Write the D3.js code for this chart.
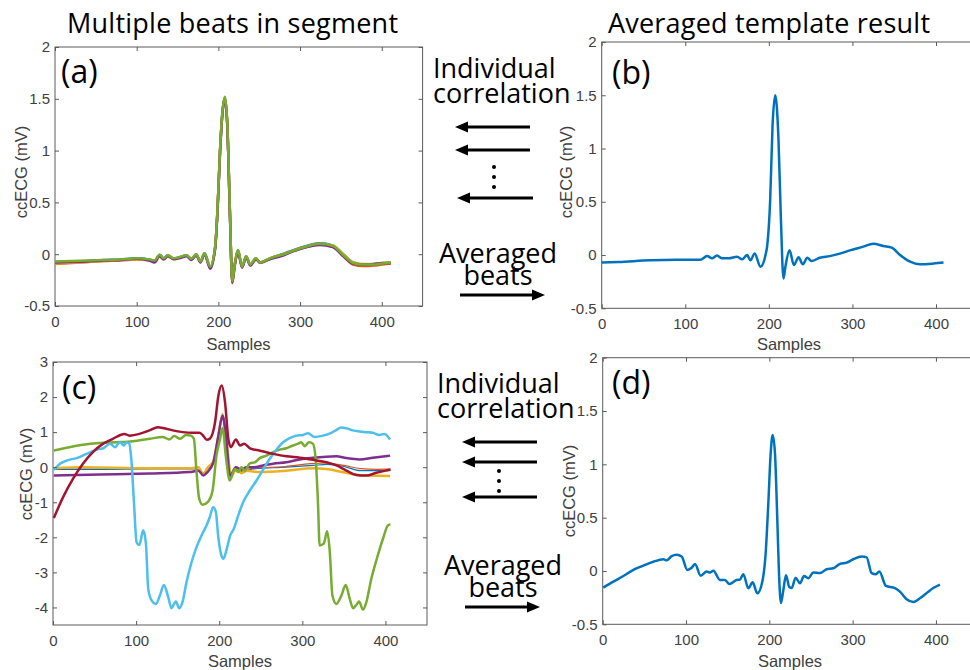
<html>
<head>
  <title></title>
</head>
<body style="margin:0;background:#fff">
<div id='graph-container'></div>
</body>
<script src="https://d3js.org/d3.v7.min.js"></script>
<script type="text/javascript">

// ---- data ----
var xTicks = [0, 100, 200, 300, 400]
var xTickLabels = ['0', '100', '200', '300', '400']
var yTicksSmall = [-0.5, 0, 0.5, 1, 1.5, 2]
var yTickLabelsSmall = ['-0.5', '0', '0.5', '1', '1.5', '2']
var yTicksBig = [-4, -3, -2, -1, 0, 1, 2, 3]
var yTickLabelsBig = ['-4', '-3', '-2', '-1', '0', '1', '2', '3']

// (a) several beats, same sample positions
var aSamples = [0,20,40,60,80, 100,115,122,128,133, 138,145,152,161,167, 173,178,183,190,196,
  199,202,205,208,211, 214,217,220,224,229, 234,239,246,251,263, 280,292,308,324,340, 353,365,377,390,400, 411]
var aBlue = [-0.075,-0.07,-0.065,-0.055,-0.05, -0.04,-0.05,-0.06,-0.005,-0.04, -0.01,-0.04,-0.03,-0.01,-0.045,
  0.0,-0.07,0.01,-0.12,0.065, 0.44,0.99,1.37,1.51,1.24, 0.44,-0.26,-0.1,0.04,-0.12, -0.02,-0.1,-0.04,-0.08,-0.04,
  0.005,0.04,0.08,0.105,0.085, 0.0,-0.08,-0.1,-0.1,-0.09, -0.085]
var aOrange = [-0.095,-0.085,-0.075,-0.065,-0.06, -0.05,-0.055,-0.065,-0.015,-0.045, -0.015,-0.05,-0.035,-0.015,-0.05,
  -0.005,-0.075,0.005,-0.125,0.06, 0.44,0.99,1.37,1.5,1.24, 0.44,-0.28,-0.11,0.03,-0.125, -0.025,-0.105,-0.045,-0.085,-0.045,
  -0.005,0.03,0.07,0.095,0.07, -0.02,-0.1,-0.115,-0.11,-0.1, -0.09]
var aYellow = [-0.09,-0.08,-0.075,-0.065,-0.055, -0.05,-0.055,-0.065,-0.01,-0.045, -0.015,-0.045,-0.035,-0.015,-0.05,
  -0.005,-0.075,0.005,-0.12,0.06, 0.44,0.99,1.37,1.51,1.24, 0.44,-0.265,-0.105,0.035,-0.12, -0.025,-0.1,-0.04,-0.08,-0.04,
  0.0,0.035,0.075,0.1,0.085, 0.0,-0.08,-0.095,-0.095,-0.085, -0.08]
var aPurple = [-0.08,-0.075,-0.07,-0.06,-0.055, -0.045,-0.06,-0.08,-0.02,-0.05, -0.02,-0.045,-0.04,-0.02,-0.055,
  -0.01,-0.08,0.0,-0.14,0.05, 0.42,0.98,1.36,1.5,1.22, 0.42,-0.27,-0.11,0.02,-0.13, -0.03,-0.11,-0.05,-0.08,-0.05,
  -0.01,0.03,0.07,0.09,0.07, -0.02,-0.09,-0.1,-0.095,-0.085, -0.085]
var aGreen = [-0.07,-0.065,-0.06,-0.055,-0.05, -0.04,-0.05,-0.06,-0.005,-0.04, -0.01,-0.04,-0.03,-0.01,-0.045,
  0.0,-0.07,0.01,-0.12,0.07, 0.45,1.0,1.38,1.52,1.25, 0.45,-0.26,-0.1,0.04,-0.12, -0.02,-0.1,-0.04,-0.08,-0.04,
  0.0,0.035,0.075,0.1,0.08, -0.01,-0.085,-0.1,-0.1,-0.09, -0.08]

// (b) averaged template, [sample, mV]
var bTemplate = [[0,-0.07],[20,-0.065],[58,-0.05],[90,-0.045],[118,-0.045],[126,-0.01],[132,-0.03],[138,-0.005],
  [144,-0.03],[152,-0.03],[162,-0.015],[168,-0.04],[174,0.0],[178,-0.05],[183,0.015],[190,-0.11],[196,0.0],
  [198,0.085],[201.6,0.52],[204.4,1.21],[207.6,1.5],[211.5,1.09],[214.3,0.37],[217.5,-0.22],[220,-0.1],
  [224.7,0.044],[230,-0.094],[235.5,-0.02],[240.7,-0.087],[246,-0.025],[251,-0.056],[261,-0.025],[273,-0.01],
  [285,0.013],[297,0.044],[313,0.079],[325,0.107],[337,0.085],[347,0.07],[357,0.0],[369,-0.062],[381,-0.087],
  [397,-0.08],[409,-0.071]]

// (c) noisy segment beats
var cBlue = [[1,-0.06],[60,-0.06],[120,-0.05],[170,-0.05],[181,-0.18],[186,-0.05],[193,0.15],[199,0.9],[204,1.45],
  [208,0.9],[214,-0.28],[221,-0.05],[228,-0.15],[240,-0.05],[280,0.0],[313,0.05],[330,0.08],[350,0.02],[370,-0.1],
  [390,-0.1],[406,-0.08]]
var cOrange = [[1,-0.02],[60,-0.02],[120,-0.02],[170,-0.02],[181,-0.16],[186,-0.02],[193,0.15],[199,0.9],[204,1.48],
  [208,0.9],[214,-0.26],[221,-0.03],[228,-0.13],[240,-0.03],[280,0.02],[310,0.1],[330,0.12],[350,0.05],[370,-0.04],
  [390,-0.06],[406,-0.05]]
var cYellow = [[1,-0.03],[36,0.0],[116,-0.03],[165,-0.03],[175,0.0],[181,-0.2],[185.5,-0.03],[193,0.18],[199,0.9],
  [204,1.52],[208,0.9],[214.7,-0.24],[220.8,-0.05],[226.8,-0.17],[232.8,-0.1],[248.8,-0.14],[280.8,-0.1],
  [312.8,-0.03],[328.8,-0.05],[344.8,-0.12],[360.8,-0.2],[376.8,-0.24],[405.6,-0.25]]
var cPurple = [[1,-0.24],[56,-0.21],[116,-0.18],[164,-0.14],[175,-0.1],[181,-0.24],[185,-0.16],[193,0.14],[199,0.9],
  [204,1.47],[208,0.9],[213,-0.24],[220,0.0],[226.8,-0.07],[232.8,0.0],[240.8,0.0],[252.8,0.05],[264.8,0.1],
  [280.8,0.14],[296.8,0.22],[312.8,0.27],[328.8,0.3],[340.8,0.31],[352.8,0.26],[368.8,0.22],[384.8,0.27],[405.6,0.33]]
var cGreen = [[1,0.475],[20,0.57],[36,0.64],[56,0.69],[76,0.71],[96,0.74],[116,0.81],[132,0.86],[140,0.79],[146,0.89],
  [153,0.81],[160,0.92],[166,0.9],[169.5,0.81],[172.7,-0.14],[175.9,-0.9],[180,-1.07],[186.7,-0.98],[192,-0.665],
  [196.7,0.33],[201,0.8],[204,1.12],[208,0.3],[212.7,-0.38],[218.8,-0.05],[222.8,-0.14],[226.8,0.0],[230.8,-0.1],
  [236.8,0.11],[242.8,0.14],[248.8,0.26],[256.8,0.33],[264.8,0.43],[272.8,0.5],[280.8,0.54],[288.8,0.62],[294.8,0.67],
  [298.8,0.71],[302.8,0.6],[308,0.71],[312.8,0.67],[316,0.24],[318.8,-1.0],[320.8,-2.23],[325.8,-2.18],[329.8,-1.83],
  [333,-2.4],[336.2,-3.66],[341,-3.9],[347,-3.66],[352.2,-3.36],[357,-3.75],[361,-4.02],[365.8,-3.9],[368.2,-3.83],
  [373,-4.06],[377,-3.85],[383,-3.18],[389,-2.66],[397,-2.04],[403,-1.66],[406,-1.63]]
var cCyan = [[1,-0.08],[8.4,0.095],[16.4,0.19],[28.4,0.26],[40.5,0.38],[52.5,0.5],[60.5,0.54],[68.5,0.67],[74.5,0.57],
  [80.5,0.71],[85.3,0.62],[88.5,0.71],[91.7,0.67],[94.5,0.14],[97.4,-1.0],[100.6,-2.14],[103.8,-2.22],[108.6,-1.8],
  [111.8,-2.18],[114.6,-3.47],[118.6,-3.8],[123.8,-3.9],[128.6,-3.66],[133.4,-3.36],[138.6,-3.7],[142.6,-4.02],
  [147.8,-3.83],[151.8,-4.02],[155.8,-3.85],[160.6,-3.28],[166.7,-2.71],[172.7,-2.28],[178.7,-1.95],[184.7,-1.66],
  [188.7,-1.42],[192.7,-1.14],[196,-1.28],[198.7,-1.95],[202.4,-2.5],[205,-2.61],[209.1,-2.33],[213.1,-1.95],
  [217.2,-1.78],[222.8,-1.38],[228.8,-1.0],[236.8,-0.665],[244.8,-0.38],[252.8,-0.07],[260.8,0.24],[268.8,0.5],
  [276.8,0.71],[284.8,0.83],[292.8,0.9],[300.8,0.92],[306.8,0.97],[314.8,0.86],[324.8,0.9],[334.8,0.98],[340.8,1.06],
  [346.8,1.13],[352.8,1.11],[360.8,1.05],[368.8,1.02],[376.8,1.0],[384.8,0.98],[392.8,0.92],[398.8,0.95],[405.6,0.79]]
var cRed = [[1,-1.45],[12,-0.86],[24,-0.33],[36,0.1],[48,0.43],[60,0.665],[72,0.81],[86,0.95],[92,0.9],[104,0.95],
  [116,1.05],[126,1.14],[134,1.11],[144,1.05],[156,1.0],[168,0.98],[176,0.98],[180,0.92],[185,0.78],[189,0.82],
  [195,1.28],[199,2.04],[203,2.33],[207,1.85],[211,0.8],[214,0.57],[220,0.79],[225,0.62],[230,0.67],[237,0.54],
  [249,0.47],[265,0.38],[281,0.31],[297,0.27],[313,0.21],[329,0.14],[341,0.05],[353,-0.095],[365,-0.22],[377,-0.24],
  [389,-0.16],[401,-0.095],[406,-0.07]]

// (d) averaged template of the noisy segment
var dTemplate = [[0.7,-0.156],[12.8,-0.1],[24.8,-0.047],[36.8,0.01],[48.8,0.05],[60.8,0.087],[72.8,0.11],[76.8,0.1],
  [82.8,0.14],[88.8,0.153],[94.8,0.135],[101.6,0.01],[106.8,0.03],[110.8,0.066],[117.6,-0.044],[124.8,-0.005],
  [128.8,-0.015],[132.8,0.003],[140.8,-0.084],[146.8,-0.084],[152,-0.122],[160.8,-0.084],[164.8,-0.08],[168.8,-0.03],
  [174.8,-0.163],[180,-0.106],[185.6,-0.21],[192,-0.084],[195.6,0.166],[198.8,0.635],[201.6,1.1],[204,1.275],
  [206.8,1.1],[209.6,0.478],[211.6,-0.02],[214,-0.3],[216.8,-0.18],[220,-0.04],[224,-0.15],[226.8,-0.16],
  [231.6,-0.063],[236.8,-0.116],[241.6,-0.047],[246.8,-0.068],[252.8,-0.015],[260.8,-0.02],[268.8,0.016],
  [276.8,0.025],[284.8,0.066],[292.8,0.078],[300.8,0.11],[310.8,0.135],[316.8,0.128],[322.8,-0.02],[328,-0.03],
  [332,-0.005],[340,-0.14],[350.8,-0.16],[356.8,-0.194],[364.8,-0.266],[372.8,-0.29],[380.8,-0.256],[390.8,-0.194],
  [396.8,-0.16],[404.8,-0.128]]

var colors = {blue:'#0072BD', orange:'#D95319', yellow:'#EDB120', purple:'#7E2F8E',
  green:'#77AC30', cyan:'#4DBEEE', red:'#A2142F'}

// ---- drawing ----
var svg = d3.select('#graph-container').append('svg')
  .attr('width', 970).attr('height', 670)
  .style('display', 'block')

var bigFont = "'Open Sans', 'Noto Sans', sans-serif"
var axFont = "'Liberation Sans', Arial, sans-serif"
var axColor = '#5a5a5a'
var txtColor = '#404040'

function drawPanel(p){
  var x = d3.scaleLinear().domain([0, 450]).range([p.left, p.right])
  var y = d3.scaleLinear().domain(p.yDomain).range([p.bottom, p.top])
  var g = svg.append('g')

  g.append('rect')
    .attr('x', p.left).attr('y', p.top)
    .attr('width', p.right - p.left).attr('height', p.bottom - p.top)
    .attr('fill', 'none').attr('stroke', axColor).attr('stroke-width', 1)

  var line = d3.line().x(d => x(d[0])).y(d => y(d[1])).curve(d3.curveMonotoneX)
  p.series.forEach(s => {
    g.append('path').datum(s.data)
      .attr('d', line).attr('fill', 'none')
      .attr('stroke', s.color).attr('stroke-width', s.width)
      .attr('stroke-linejoin', 'round')
  })

  var fmtX = (d, i) => xTickLabels[i]
  var fmtY = (d, i) => p.yLabels[i]
  var bottom = g.append('g').attr('transform', `translate(0,${p.bottom})`)
    .call(d3.axisBottom(x).tickValues(xTicks).tickFormat(fmtX).tickSize(-4).tickSizeOuter(0).tickPadding(10))
  var top = g.append('g').attr('transform', `translate(0,${p.top})`)
    .call(d3.axisTop(x).tickValues(xTicks).tickFormat('').tickSize(-4).tickSizeOuter(0))
  var left = g.append('g').attr('transform', `translate(${p.left},0)`)
    .call(d3.axisLeft(y).tickValues(p.yTicks).tickFormat(fmtY).tickSize(-4).tickSizeOuter(0).tickPadding(5))
  var right = g.append('g').attr('transform', `translate(${p.right},0)`)
    .call(d3.axisRight(y).tickValues(p.yTicks).tickFormat('').tickSize(-4).tickSizeOuter(0))
  ;[bottom, top, left, right].forEach(a => {
    a.select('.domain').remove()
    a.selectAll('line').attr('stroke', axColor)
    a.selectAll('text').attr('fill', txtColor).style('font-family', axFont).style('font-size', '15px')
  })

  g.append('text')
    .attr('transform', `translate(${p.ylab[0]},${p.ylab[1]}) rotate(-90)`)
    .attr('text-anchor', 'middle')
    .style('font-family', axFont).style('font-size', '16.5px').attr('fill', txtColor)
    .text('ccECG (mV)')
  g.append('text')
    .attr('x', p.xlab[0]).attr('y', p.xlab[1])
    .attr('text-anchor', 'middle')
    .style('font-family', axFont).style('font-size', '16.5px').attr('fill', txtColor)
    .text('Samples')
  g.append('text')
    .attr('x', p.tag[0]).attr('y', p.tag[1])
    .style('font-family', bigFont).style('font-size', '32px').attr('fill', '#000')
    .text(p.tagText)
}

function zipA(vals){ return aSamples.map((s, i) => [s, vals[i]]) }

drawPanel({left:55, right:422.6, top:47, bottom:306, yDomain:[-0.5, 2],
  yTicks:yTicksSmall, yLabels:yTickLabelsSmall, ylab:[27, 172], xlab:[238.5, 350], tag:[61, 83], tagText:'(a)',
  series:[
    {data:zipA(aBlue), color:colors.blue, width:2.5},
    {data:zipA(aOrange), color:colors.orange, width:2.5},
    {data:zipA(aYellow), color:colors.yellow, width:2.5},
    {data:zipA(aPurple), color:colors.purple, width:2.5},
    {data:zipA(aGreen), color:colors.green, width:2.5}
  ]})

drawPanel({left:601.7, right:977.8, top:42, bottom:308.3, yDomain:[-0.5, 2],
  yTicks:yTicksSmall, yLabels:yTickLabelsSmall, ylab:[572, 172], xlab:[789, 350], tag:[612, 84], tagText:'(b)',
  series:[{data:bTemplate, color:colors.blue, width:2.5}]})

drawPanel({left:53, right:427, top:362, bottom:625, yDomain:[-4.5, 3],
  yTicks:yTicksBig, yLabels:yTickLabelsBig, ylab:[32, 474], xlab:[240, 667], tag:[62, 399], tagText:'(c)',
  series:[
    {data:cBlue, color:colors.blue, width:1.2},
    {data:cOrange, color:colors.orange, width:1.2},
    {data:cYellow, color:colors.yellow, width:2.5},
    {data:cPurple, color:colors.purple, width:2.5},
    {data:cGreen, color:colors.green, width:2.5},
    {data:cCyan, color:colors.cyan, width:2.5},
    {data:cRed, color:colors.red, width:2.5}
  ]})

drawPanel({left:602.7, right:977.6, top:357.7, bottom:624.3, yDomain:[-0.5, 2],
  yTicks:yTicksSmall, yLabels:yTickLabelsSmall, ylab:[575, 491], xlab:[790, 667], tag:[612, 394], tagText:'(d)',
  series:[{data:dTemplate, color:colors.blue, width:2.5}]})

// titles
svg.append('text').attr('x', 232.5).attr('y', 33).attr('text-anchor', 'middle')
  .attr('textLength', 331)
  .style('font-family', bigFont).style('font-size', '27px').text('Multiple beats in segment')
svg.append('text').attr('x', 769).attr('y', 33).attr('text-anchor', 'middle')
  .attr('textLength', 322)
  .style('font-family', bigFont).style('font-size', '27px').text('Averaged template result')

// middle annotations (two-line labels as tspans)
function bigText(lines, x, y, dy, anchor){
  var t = svg.append('text').attr('text-anchor', anchor)
    .style('font-family', bigFont).style('font-size', '27px').attr('fill', '#000')
  lines.forEach((s, i) => t.append('tspan').attr('x', x).attr('y', y + i*dy).text(s))
}
function arrow(x1, x2, y){
  var dir = x2 > x1 ? 1 : -1
  var head = 13
  svg.append('line').attr('x1', x1).attr('x2', x2 - dir*head + dir*1).attr('y1', y).attr('y2', y)
    .attr('stroke', '#000').attr('stroke-width', 3)
  svg.append('path')
    .attr('d', `M${x2},${y} L${x2 - dir*head},${y - 5.5} L${x2 - dir*head},${y + 5.5} Z`)
    .attr('fill', '#000')
}
function dots(x, y0){
  [0, 10, 20].forEach(dy => svg.append('circle').attr('cx', x).attr('cy', y0 + dy).attr('r', 2).attr('fill', '#000'))
}

bigText(['Individual', 'correlation'], 433, 78, 25, 'start')
arrow(530, 455, 127)
arrow(530, 455, 150)
arrow(533, 457, 198)
dots(494, 167)
bigText(['Averaged', 'beats'], 498, 263, 22, 'middle')
arrow(460, 545, 295)

bigText(['Individual', 'correlation'], 437, 393, 25, 'start')
arrow(537, 462, 442)
arrow(537, 462, 462)
arrow(537, 462, 497)
dots(499, 471)
bigText(['Averaged', 'beats'], 503, 575, 22, 'middle')
arrow(465, 540, 607)

</script>
</html>
